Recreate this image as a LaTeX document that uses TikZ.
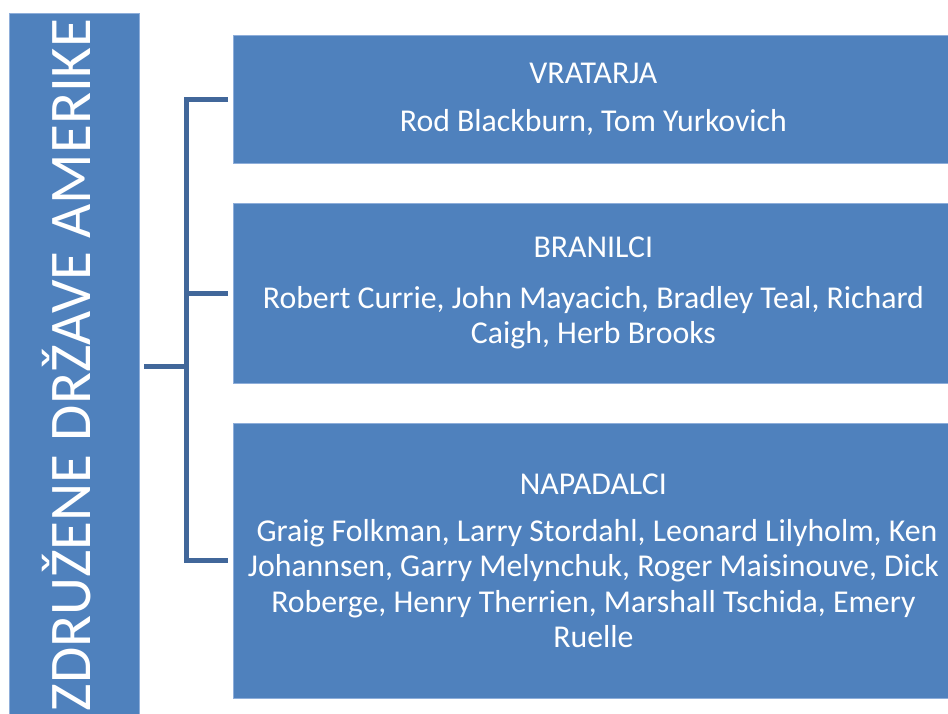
\documentclass[tikz,border=0pt]{standalone}
\usepackage{fontspec}
\setmainfont{Carlito}
\definecolor{boxblue}{HTML}{4F81BD}
\definecolor{edgeblue}{HTML}{8EAEDA}
\definecolor{brk}{HTML}{41679A}
\begin{document}
\begin{tikzpicture}[x=1pt,y=-1pt,
  bluebox/.style={fill=boxblue,draw=edgeblue,line width=0.8pt,inner sep=0pt,anchor=north west},
  grpbox/.style={bluebox,minimum width=720pt,text=white,align=center,
     font=\fontsize{31.8}{35.5}\selectfont},
  brace/.style={draw=brk,line width=5pt}]
\useasboundingbox (0,0) rectangle (948,713);
\node[bluebox,minimum width=130pt,minimum height=705pt] (country) at (9,13) {};
\node[text=white,rotate=90,font=\fontsize{59}{62}\selectfont,anchor=center] (ctext) at (67,365) {ZDRUŽENE DRŽAVE AMERIKE};
\node[grpbox,minimum height=128pt] (b1) at (233,35) {VRATARJA\\[13pt]Rod Blackburn, Tom Yurkovich};
\node[grpbox,minimum height=180pt] (b2) at (233,203) {BRANILCI\\[15pt]Robert Currie, John Mayacich, Bradley Teal, Richard\\Caigh, Herb Brooks};
\node[grpbox,minimum height=275pt] (b3) at (233,423) {NAPADALCI\\[11pt]\ Graig Folkman, Larry Stordahl, Leonard Lilyholm, Ken\\Johannsen, Garry Melynchuk, Roger Maisinouve, Dick\\Roberge, Henry Therrien, Marshall Tschida, Emery\\Ruelle};
\coordinate (hub) at (186,366);
\coordinate (start) at (144,366);
\draw[brace] (start) -- (hub);
\draw[brace] ([xshift=-5pt]b1.west) -- (hub|-b1.west) -- (hub|-b3.west) -- ([xshift=-5pt]b3.west);
\draw[brace] (hub|-b2.west) -- ([xshift=-5pt]b2.west);
\end{tikzpicture}
\end{document}
